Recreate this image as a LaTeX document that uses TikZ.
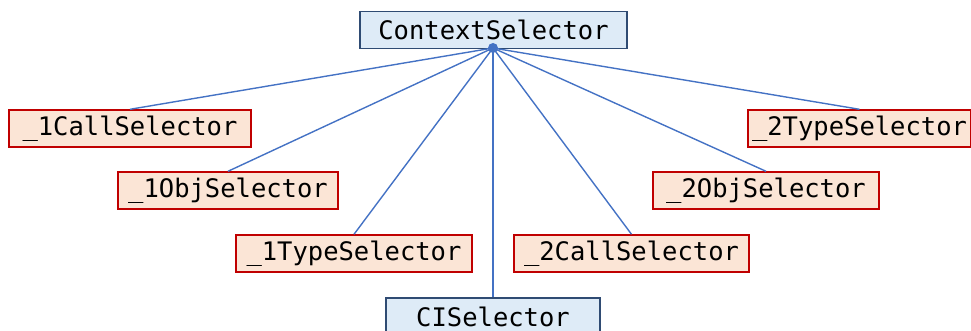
\documentclass[tikz,border=0pt]{standalone}
\usepackage{fontspec}
\setmonofont{DejaVu Sans Mono}
\definecolor{bluefill}{HTML}{DEEBF7}
\definecolor{blueedge}{HTML}{2F4B73}
\definecolor{redfill}{HTML}{FBE5D6}
\definecolor{rededge}{HTML}{C00000}
\definecolor{linkblue}{HTML}{4472C4}
\begin{document}
\begin{tikzpicture}[x=1pt,y=-1pt,
  cls/.style={draw, line width=1.4pt, inner sep=0pt, minimum height=37pt,
    font=\ttfamily\fontsize{25.5}{30}\selectfont, text=black},
  bluebox/.style={cls, fill=bluefill, draw=blueedge},
  redbox/.style={cls, fill=redfill, draw=rededge},
  link/.style={draw=linkblue, line width=1.4pt}]
\useasboundingbox (0,0) rectangle (971,331);
\clip (0,0) rectangle (971,331);
\node[bluebox, minimum width=267pt] (ctx) at (493.5,30) {ContextSelector};
\node[redbox, minimum width=242pt] (c1) at (130,128.5) {\_1CallSelector};
\node[redbox, minimum width=220pt] (o1) at (228,190.5) {\_1ObjSelector};
\node[redbox, minimum width=236pt] (t1) at (354,253.5) {\_1TypeSelector};
\node[bluebox, minimum width=214pt] (ci) at (493,316.5) {CISelector};
\node[redbox, minimum width=235pt] (c2) at (631.5,253.5) {\_2CallSelector};
\node[redbox, minimum width=226pt] (o2) at (766,190.5) {\_2ObjSelector};
\node[redbox, minimum width=223pt] (t2) at (859.5,128.5) {\_2TypeSelector};
\coordinate (hub) at (493,48);
\draw[link] (hub) -- (c1.north);
\draw[link] (hub) -- (o1.north);
\draw[link] (hub) -- (t1.north);
\draw[link] (hub) -- (ci.north);
\draw[link] (hub) -- (c2.north);
\draw[link] (hub) -- (o2.north);
\draw[link] (hub) -- (t2.north);
\fill[linkblue] (hub) circle (5pt);
\end{tikzpicture}
\end{document}
